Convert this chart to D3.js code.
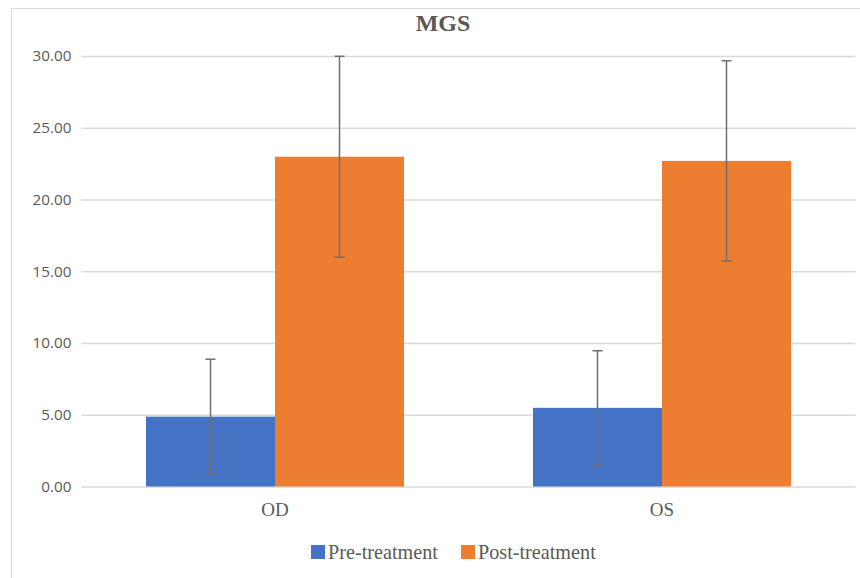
<!DOCTYPE html>
<html>
<head>
<meta charset="utf-8">
<script src="https://cdn.jsdelivr.net/npm/d3@7"></script>
<style>
html,body{margin:0;padding:0;background:#fff;}
svg{display:block;}
</style>
</head>
<body>
<svg id="chart" width="860" height="578"></svg>
<script>
const title = "MGS";
const categories = ["OD", "OS"];
const seriesNames = ["Pre-treatment", "Post-treatment"];
const preValues = [4.87, 5.48];
const postValues = [22.98, 22.69];
const preErrors = [4.0, 3.98];
const postErrors = [7.0, 6.98];
const yTicks = [0, 5, 10, 15, 20, 25, 30];
const colors = ["#4472C4", "#ED7D31"];

const svg = d3.select("#chart");
const plot = {left: 81.5, right: 855.5, top: 56, bottom: 486.5};

// chart frame
svg.append("rect").attr("x", 11.5).attr("y", 8.5).attr("width", 870).attr("height", 600)
  .attr("fill", "#fff").attr("stroke", "#d9d9d9").attr("stroke-width", 1);

const y = d3.scaleLinear().domain([0, 30]).range([plot.bottom, plot.top]);
const x = d3.scaleBand().domain(categories).range([plot.left, plot.right]).paddingInner(0).paddingOuter(0);
const xs = d3.scaleBand().domain(seriesNames)
  .range([x.bandwidth() / 6, x.bandwidth() * 5 / 6]).padding(0);

// gridlines & y labels via axis
const yAxis = d3.axisLeft(y).tickValues(yTicks).tickFormat(d3.format(".2f"))
  .tickSize(-(plot.right - plot.left)).tickPadding(10);
const gy = svg.append("g").attr("transform", `translate(${plot.left},0)`).call(yAxis);
gy.select(".domain").remove();
gy.selectAll(".tick line").attr("stroke", "#d9d9d9").attr("stroke-width", 1.3);
gy.selectAll(".tick text").attr("fill", "#595959")
  .style("font-family", "'Open Sans', sans-serif").style("font-size", "15.3px");

const data = categories.map((c, i) => ({
  cat: c,
  vals: [
    {s: seriesNames[0], v: preValues[i], e: preErrors[i], color: colors[0]},
    {s: seriesNames[1], v: postValues[i], e: postErrors[i], color: colors[1]}
  ]
}));

const groups = svg.append("g").selectAll("g").data(data).join("g")
  .attr("transform", d => `translate(${x(d.cat)},0)`);

groups.selectAll("rect").data(d => d.vals).join("rect")
  .attr("x", d => xs(d.s)).attr("width", xs.bandwidth())
  .attr("y", d => y(d.v)).attr("height", d => y(0) - y(d.v))
  .attr("fill", d => d.color);

// error bars
const eb = groups.selectAll("g.err").data(d => d.vals).join("g").attr("class", "err")
  .attr("transform", d => `translate(${xs(d.s) + xs.bandwidth() / 2},0)`);
eb.append("line").attr("x1", 0).attr("x2", 0)
  .attr("y1", d => y(d.v + d.e)).attr("y2", d => y(d.v - d.e))
  .attr("stroke", "#6f6f6f").attr("stroke-width", 1.5);
eb.append("line").attr("x1", -5).attr("x2", 5)
  .attr("y1", d => y(d.v + d.e)).attr("y2", d => y(d.v + d.e))
  .attr("stroke", "#6f6f6f").attr("stroke-width", 1.5);
eb.append("line").attr("x1", -5).attr("x2", 5)
  .attr("y1", d => y(d.v - d.e)).attr("y2", d => y(d.v - d.e))
  .attr("stroke", "#6f6f6f").attr("stroke-width", 1.5);

// category labels
const xAxis = d3.axisBottom(x).tickSize(0).tickPadding(0);
const gx = svg.append("g").attr("transform", `translate(0,${plot.bottom})`).call(xAxis);
gx.select(".domain").remove();
gx.selectAll(".tick text").attr("fill", "#595959").attr("dy", null).attr("y", 29.5)
  .style("font-family", "'Liberation Serif', 'Times New Roman', serif").style("font-size", "19px");

// title
svg.append("text").attr("x", 443).attr("y", 31).attr("text-anchor", "middle")
  .attr("fill", "#595959").style("font-family", "'Liberation Serif', 'Times New Roman', serif")
  .style("font-size", "24px").style("font-weight", "bold").text(title);

// legend
const legendItems = [
  {name: seriesNames[0], color: colors[0], x: 311},
  {name: seriesNames[1], color: colors[1], x: 461}
];
const lg = svg.append("g").selectAll("g").data(legendItems).join("g")
  .attr("transform", d => `translate(${d.x},0)`);
lg.append("rect").attr("x", 0).attr("y", 545).attr("width", 14).attr("height", 14).attr("fill", d => d.color);
lg.append("text").attr("x", 17).attr("y", 559).attr("fill", "#595959")
  .style("font-family", "'Liberation Serif', 'Times New Roman', serif").style("font-size", "20.2px")
  .text(d => d.name);
</script>
</body>
</html>
